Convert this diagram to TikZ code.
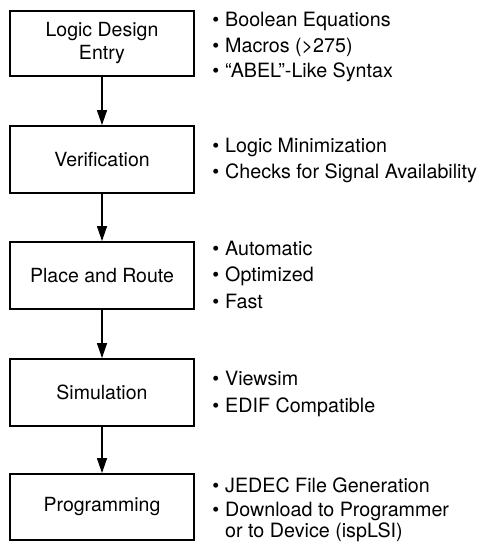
\documentclass[tikz,border=0pt]{standalone}
\usepackage{fontspec}
\setmainfont{TeX Gyre Heros}
\usetikzlibrary{arrows.meta}
\tikzset{
  stepbox/.style={draw, line width=2.4pt, minimum width=183.5pt, inner sep=0pt, align=center,
    font=\fontsize{19.5}{23}\selectfont},
  flow/.style={line width=1.4pt, -{Triangle[length=15pt,width=10pt]}},
  item/.style={anchor=base west, inner sep=0pt, font=\fontsize{19.7}{22}\selectfont}
}
\newcommand{\bul}{\llap{\textbullet\hspace{6pt}}}
\begin{document}
\begin{tikzpicture}[x=1pt,y=-1pt]
\useasboundingbox (0,0) rectangle (483,542);
\node[stepbox, minimum height=64.5pt] (b1) at (102,43.5) {Logic Design\\Entry};
\node[stepbox, minimum height=66.5pt] (b2) at (102,159.5) {Verification};
\node[stepbox, minimum height=66.5pt] (b3) at (102,275.5) {Place and Route};
\node[stepbox, minimum height=66.5pt] (b4) at (102,392.5) {Simulation};
\node[stepbox, minimum height=65.5pt] (b5) at (102,507) {Programming};
\draw[flow] (b1) -- (b2);
\draw[flow] (b2) -- (b3);
\draw[flow] (b3) -- (b4);
\draw[flow] (b4) -- (b5);
\node[item] (t1a) at (225,26) {\bul Boolean Equations};
\node[item] (t1b) at (225,52) {\bul Macros (>275)};
\node[item] (t1c) at (225,77) {\bul “ABEL”-Like Syntax};
\node[item] (t2a) at (225,152) {\bul Logic Minimization};
\node[item] (t2b) at (225,178) {\bul Checks for Signal Availability};
\node[item] (t3a) at (225,255) {\bul Automatic};
\node[item] (t3b) at (225,281) {\bul Optimized};
\node[item] (t3c) at (225,308) {\bul Fast};
\node[item] (t4a) at (225,385) {\bul Viewsim};
\node[item] (t4b) at (225,412) {\bul EDIF Compatible};
\node[item] (t5a) at (225,492) {\bul JEDEC File Generation};
\node[item] (t5b) at (225,516) {\bul Download to Programmer};
\node[item] (t5c) at (225,537) {or to Device (ispLSI)};
\end{tikzpicture}
\end{document}
